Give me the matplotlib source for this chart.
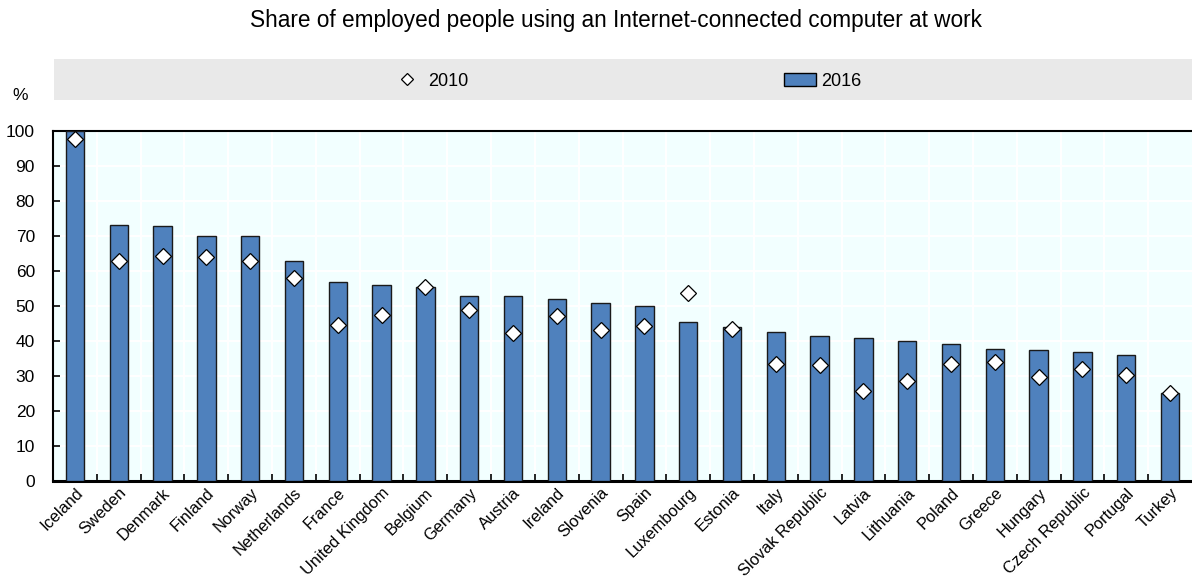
import matplotlib.pyplot as plt
import numpy as np
from matplotlib.patches import Rectangle
from matplotlib.lines import Line2D
from matplotlib.patches import Patch

plt.rcParams['font.family'] = ['Liberation Sans', 'DejaVu Sans']

countries = ["Iceland", "Sweden", "Denmark", "Finland", "Norway", "Netherlands",
             "France", "United Kingdom", "Belgium", "Germany", "Austria", "Ireland",
             "Slovenia", "Spain", "Luxembourg", "Estonia", "Italy", "Slovak Republic",
             "Latvia", "Lithuania", "Poland", "Greece", "Hungary", "Czech Republic",
             "Portugal", "Turkey"]
share_2016 = [100.0, 73.1, 72.9, 70.0, 70.0, 62.9, 57.0, 56.1, 55.3, 52.9, 52.9, 51.9,
              50.9, 50.0, 45.4, 43.9, 42.7, 41.3, 40.8, 39.9, 39.1, 37.6, 37.3, 37.0,
              35.9, 25.2]
share_2010 = [97.7, 62.8, 64.3, 64.1, 62.8, 58.0, 44.5, 47.4, 55.5, 48.9, 42.4, 47.1,
              43.1, 44.2, 53.6, 43.5, 33.3, 33.1, 25.7, 28.5, 33.4, 33.9, 29.7, 32.0,
              30.2, 25.2]

bar_color = "#4F81BD"

fig = plt.figure(figsize=(11.92, 5.81), dpi=100)
ax = fig.add_axes([53 / 1192, 1 - 481 / 581, 1 - 53 / 1192, 350 / 581])
ax.set_facecolor("#F2FFFF")

x = np.arange(len(countries))
ax.bar(x, share_2016, width=0.42, color=bar_color, edgecolor="#1a1a1a", linewidth=1.0, zorder=3)
ax.plot(x, share_2010, linestyle="none", marker="D", markersize=8,
        markerfacecolor="white", markeredgecolor="black", markeredgewidth=0.9, zorder=4)

ax.set_xlim(-0.5, len(countries) - 0.5)
ax.set_ylim(0, 100)
ax.set_yticks(np.arange(0, 101, 10))
ax.set_xticks(x)
ax.set_xticklabels(countries, rotation=45, ha="right", rotation_mode="anchor", fontsize=11.8)
ax.set_xticks(np.arange(0.5, len(countries) - 0.5, 1), minor=True)
ax.tick_params(axis="x", which="major", length=0, pad=3)
ax.tick_params(axis="x", which="minor", direction="in", length=5, width=1.2, color="black")
ax.tick_params(axis="y", direction="in", length=5, width=1.2, labelsize=12.5, pad=13)

ax.grid(True, which="major", axis="y", color="white", linewidth=1.5, zorder=0)
ax.grid(True, which="minor", axis="x", color="white", linewidth=1.5, zorder=0)
ax.set_axisbelow(True)

ax.spines["right"].set_visible(False)
ax.spines["left"].set_linewidth(1.5)
ax.spines["top"].set_linewidth(1.5)
ax.spines["bottom"].set_linewidth(2.2)

fig.text(616 / 1192, 1 - 20 / 581, "Share of employed people using an Internet-connected computer at work",
         ha="center", va="center", fontsize=16.3)
fig.text(20 / 1192, 1 - 95 / 581, "%", ha="center", va="center", fontsize=12.5)

# legend band
fig.patches.append(Rectangle((54 / 1192, 1 - 100 / 581), 1 - 54 / 1192, 41 / 581,
                             transform=fig.transFigure, facecolor="#E9E9E9", edgecolor="none", zorder=0))
handles = [Line2D([], [], linestyle="none", marker="D", markersize=6,
                  markerfacecolor="white", markeredgecolor="black", markeredgewidth=0.9),
           Patch(facecolor=bar_color, edgecolor="black", linewidth=1.0)]
fig.legend(handles, ["2010", "2016"], loc="center", bbox_to_anchor=(626 / 1192, 1 - 81 / 581),
           ncol=2, frameon=False, fontsize=13, columnspacing=17.5, handlelength=1.8,
           handletextpad=0.25)

fig.savefig("out.png", dpi=100)
